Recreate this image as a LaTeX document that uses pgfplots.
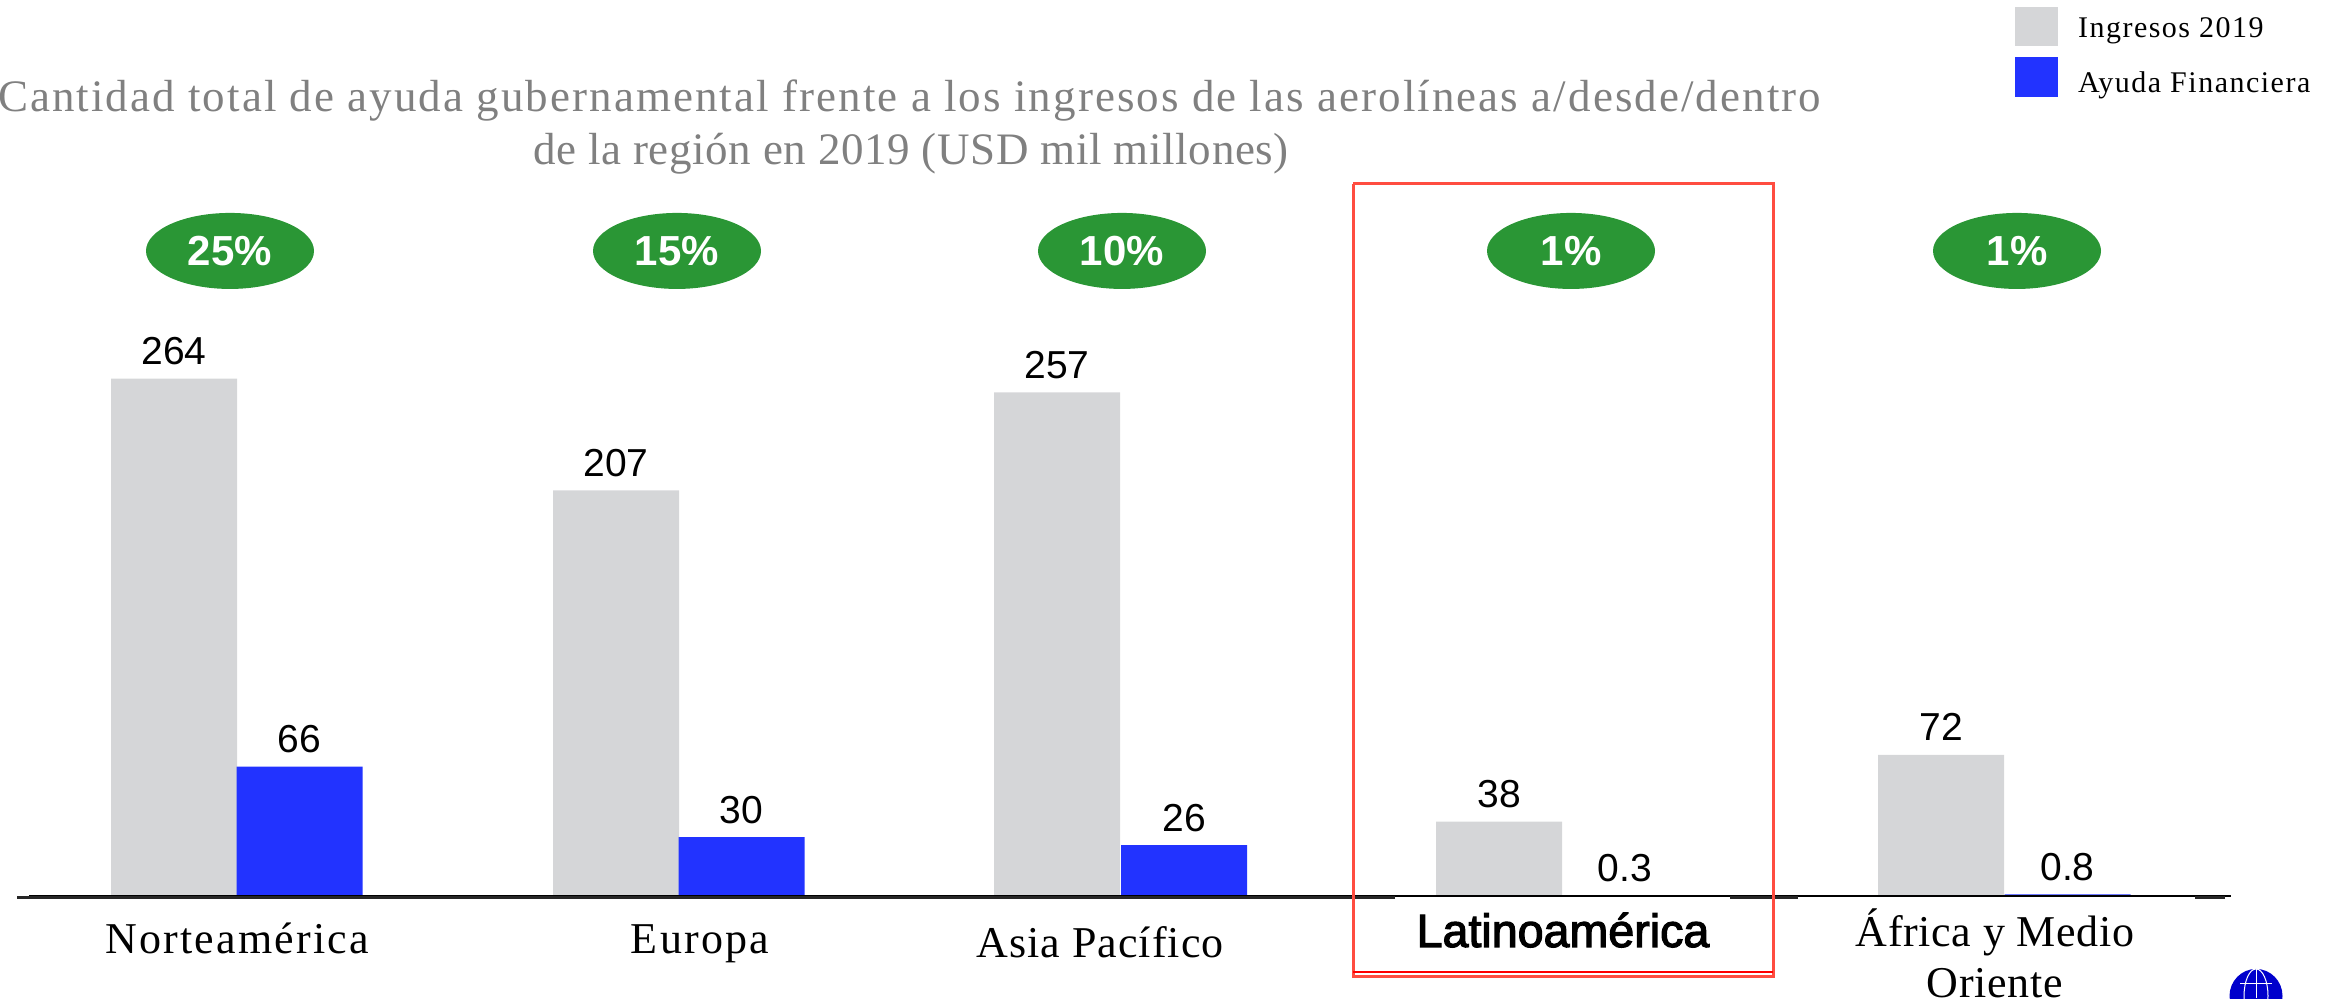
\documentclass[border=0pt]{standalone}
\usepackage{fontspec}
\usepackage{pgfplots}
\usepackage{pgfplotstable}
\pgfplotsset{compat=1.18}
\usetikzlibrary{shapes.geometric}
\setmainfont{Liberation Sans}
\newfontfamily\ttl[LetterSpace=4.6]{Liberation Serif}
\newfontfamily\ttlb[LetterSpace=1.4]{Liberation Serif}
\newfontfamily\lbl[LetterSpace=5]{Liberation Serif}
\newfontfamily\lblb[LetterSpace=2.4]{Liberation Serif}
\newfontfamily\lblc[LetterSpace=1.6]{Liberation Serif}
\newfontfamily\leg[LetterSpace=5]{Liberation Serif}
\newfontfamily\bold[FakeBold=2.5]{Liberation Sans}
\definecolor{barg}{HTML}{D5D6D8}
\definecolor{barb}{HTML}{2233FF}
\definecolor{grn}{HTML}{2A9635}
\definecolor{frame}{HTML}{FF4D40}
\pgfplotstableread{
x y lab
174 264 264
616 207 207
1057 257 257
1499 38 38
1941 72 72
}\ingresos
\pgfplotstableread{
x y lab
299.5 66 66
741.5 30 30
1184 26 26
1625 0.3 0.3
2067.5 0.8 0.8
}\ayuda
\pgfplotstableread{
x y lab
230 329.1 25\%
677 329.1 15\%
1122 329.1 10\%
1571 329.1 1\%
2017 329.1 1\%
}\pct
\begin{document}
\begin{tikzpicture}
\begin{axis}[
  scale only axis, width=1164pt, height=499.5pt,
  xmin=0, xmax=2328, ymin=-52.55, ymax=457.14,
  axis line style={draw=none}, major tick length=0pt,
  ytick=\empty,
  xtick={237,700,1100,1563,1995},
  xticklabels={
    {\lbl Norteamérica},
    {\lbl Europa},
    {\raisebox{-2pt}{\lblb Asia Pacífico}},
    {\raisebox{3.5pt}{\fontsize{23.3}{25}\selectfont\bold Latinoamérica}},
    {\raisebox{-22pt}{\parbox[b]{300pt}{\centering\lblc África y Medio\\Oriente}}}},
  xticklabel style={anchor=base, yshift=22.5pt,
    font=\fontsize{22}{25.5}\selectfont},
  legend style={at={(axis cs:2015,452)}, anchor=north west, draw=none, fill=none,
    inner sep=0pt, outer sep=0pt,
    font=\fontsize{15}{18}\selectfont\leg, row sep=8pt,
    nodes={inner sep=0pt, text height=11pt, text depth=3.5pt}},
  legend cell align=left,
]
\addplot[ybar, bar width=63pt, bar shift=0pt, fill=barg, draw=none,
  legend image code/.code={\path[fill=none,draw=none] (0pt,-9.75pt) rectangle (31.5pt,9.75pt);\fill[barg,overlay] (0pt,-8.25pt) rectangle (21.5pt,11.25pt);},
  point meta=explicit symbolic, nodes near coords,
  every node near coord/.style={anchor=base, yshift=7pt, text=black, font=\fontsize{19.5}{22}\selectfont}]
  table[x=x,y=y,meta=lab]{\ingresos};
\addlegendentry{Ingresos 2019}
\addplot[ybar, bar width=63pt, bar shift=0pt, fill=barb, draw=none,
  legend image code/.code={\path[fill=none,draw=none] (0pt,-9.75pt) rectangle (31.5pt,9.75pt);\fill[barb,overlay] (0pt,-6.25pt) rectangle (21.5pt,13.75pt);},
  point meta=explicit symbolic, nodes near coords,
  every node near coord/.style={anchor=base, yshift=7pt, text=black, font=\fontsize{19.5}{22}\selectfont}]
  table[x=x,y=y,meta=lab]{\ayuda};
\addlegendentry{Ayuda Financiera}
% baseline
\addplot[forget plot, black, line width=1pt] coordinates {(29,0.25) (2231,0.25)};
\addplot[forget plot, black!85, line width=1.5pt] coordinates {(17,-0.87) (1395,-0.87)};
\addplot[forget plot, black!85, line width=1.5pt] coordinates {(1730,-0.87) (1798,-0.87)};
\addplot[forget plot, black!85, line width=1.5pt] coordinates {(2195,-0.87) (2225,-0.87)};
% green ovals
\addplot[forget plot, only marks, mark=*, mark size=0pt,
  point meta=explicit symbolic, nodes near coords,
  every node near coord/.style={anchor=center, shape=ellipse, fill=grn, text=white,
    minimum width=84pt, minimum height=38pt, inner sep=0pt,
    font=\fontsize{21}{24}\selectfont\bfseries}]
  table[x=x,y=y,meta=lab]{\pct};
% red frame
\addplot[forget plot, frame, line width=1.5pt] coordinates
  {(1353,363.27) (1773,363.27) (1773,-41.07) (1353,-41.07) (1353,363.27)};
\addplot[forget plot, red, line width=1pt] coordinates {(1353,-39.03) (1773,-39.03)};
% title
\node[anchor=base, text=black!50, font=\fontsize{22.5}{25}\selectfont\ttl, inner sep=0pt]
  at (axis cs:909.5,400) {Cantidad total de ayuda gubernamental frente a los ingresos de las aerolíneas a/desde/dentro};
\node[anchor=base, text=black!50, font=\fontsize{22.5}{25}\selectfont\ttlb, inner sep=0pt]
  at (axis cs:911,373) {de la región en 2019 (USD mil millones)};
% logo
\begin{scope}
\fill[blue!80!black] (axis cs:2256,-51) ellipse [x radius=13.25pt, y radius=13.5pt];
\draw[white, line width=.5pt] (axis cs:2256,-51) ellipse [x radius=6pt, y radius=13.5pt];
\draw[white, line width=.5pt] (axis cs:2256,-37) -- (axis cs:2256,-52);
\draw[white, line width=.5pt] (axis cs:2240,-44.5) -- (axis cs:2272,-44.5);
\end{scope}
\end{axis}
\pgfresetboundingbox
\path[use as bounding box] (0,0) rectangle (1164pt,499.5pt);
\end{tikzpicture}
\end{document}
